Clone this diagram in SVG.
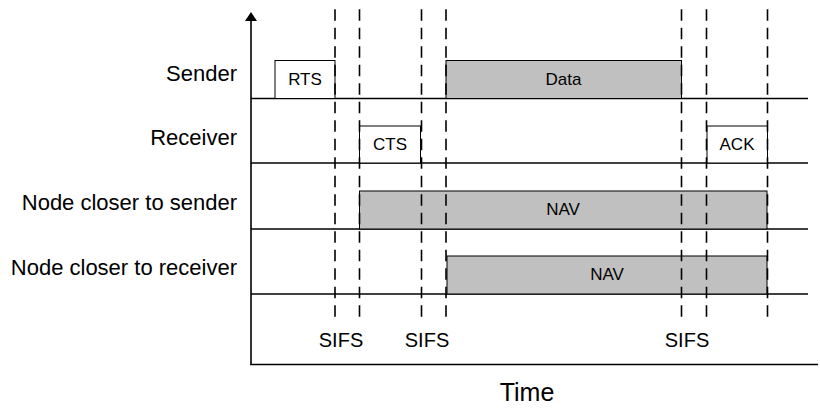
<svg xmlns="http://www.w3.org/2000/svg" width="820" height="409" viewBox="0 0 820 409">
  <style>
    .lbl { font-family: "Liberation Sans", Arial, sans-serif; font-size: 20px; fill: #000; }
    .row { text-anchor: end; font-size: 22px; }
    .mid { text-anchor: middle; }
    .box-txt { font-family: "Liberation Sans", Arial, sans-serif; font-size: 17px; fill: #000; text-anchor: middle; }
    .axis { stroke: #000; stroke-width: 1.6; fill: none; }
    .base { stroke: #000; stroke-width: 1.6; fill: none; }
    .dash { stroke: #000; stroke-width: 1.6; stroke-dasharray: 11.5 7; fill: none; }
    .frame { fill: #fff; stroke: #000; stroke-width: 1; }
    .busy { fill: #c0c0c0; stroke: #000; stroke-width: 1; }
  </style>

  <rect width="820" height="409" fill="#fff"/>

  <!-- axes -->
  <g id="axes">
    <line class="axis" x1="251" y1="18" x2="251" y2="364.5"/>
    <line class="axis" x1="250.2" y1="364.5" x2="818" y2="364.5"/>
    <polygon points="251,12 245,21 257,21" fill="#000"/>
    <text class="lbl mid" x="527" y="401" style="font-size:25px">Time</text>
  </g>

  <!-- per-station time lines -->
  <g id="timelines">
    <line class="base" x1="251" y1="98.5" x2="808" y2="98.5"/>
    <line class="base" x1="251" y1="163" x2="808" y2="163"/>
    <line class="base" x1="251" y1="229" x2="808" y2="229"/>
    <line class="base" x1="251" y1="294" x2="808" y2="294"/>
  </g>

  <!-- row labels -->
  <g id="row-labels">
    <text class="lbl row" x="237" y="81">Sender</text>
    <text class="lbl row" x="237" y="145">Receiver</text>
    <text class="lbl row" x="237" y="210">Node closer to sender</text>
    <text class="lbl row" x="237" y="275">Node closer to receiver</text>
  </g>

  <!-- frames and NAV periods -->
  <g id="rts">
    <rect class="frame" x="275" y="60.5" width="60" height="38"/>
    <text class="box-txt" x="305" y="85">RTS</text>
  </g>
  <g id="data">
    <rect class="busy" x="446" y="60.5" width="235.5" height="38"/>
    <text class="box-txt" x="563.5" y="85">Data</text>
  </g>
  <g id="cts">
    <rect class="frame" x="359.5" y="126" width="61" height="37"/>
    <text class="box-txt" x="390" y="150">CTS</text>
  </g>
  <g id="ack">
    <rect class="frame" x="707" y="126" width="60.5" height="37"/>
    <text class="box-txt" x="737" y="150">ACK</text>
  </g>
  <g id="nav-sender-side">
    <rect class="busy" x="359.5" y="191" width="407.5" height="38"/>
    <text class="box-txt" x="563" y="215">NAV</text>
  </g>
  <g id="nav-receiver-side">
    <rect class="busy" x="447" y="256" width="320" height="38"/>
    <text class="box-txt" x="607" y="280">NAV</text>
  </g>

  <!-- SIFS boundaries -->
  <g id="connectors">
    <line class="dash" x1="335" y1="9.3" x2="335" y2="317"/>
    <line class="dash" x1="359.5" y1="9.3" x2="359.5" y2="317"/>
    <line class="dash" x1="421.5" y1="9.3" x2="421.5" y2="317"/>
    <line class="dash" x1="446" y1="9.3" x2="446" y2="317"/>
    <line class="dash" x1="681.5" y1="9.3" x2="681.5" y2="317"/>
    <line class="dash" x1="706.5" y1="9.3" x2="706.5" y2="317"/>
    <line class="dash" x1="767.5" y1="9.3" x2="767.5" y2="317"/>
  </g>

  <g id="sifs-labels">
    <text class="lbl mid" x="341" y="347">SIFS</text>
    <text class="lbl mid" x="427" y="347">SIFS</text>
    <text class="lbl mid" x="687" y="347">SIFS</text>
  </g>
</svg>
